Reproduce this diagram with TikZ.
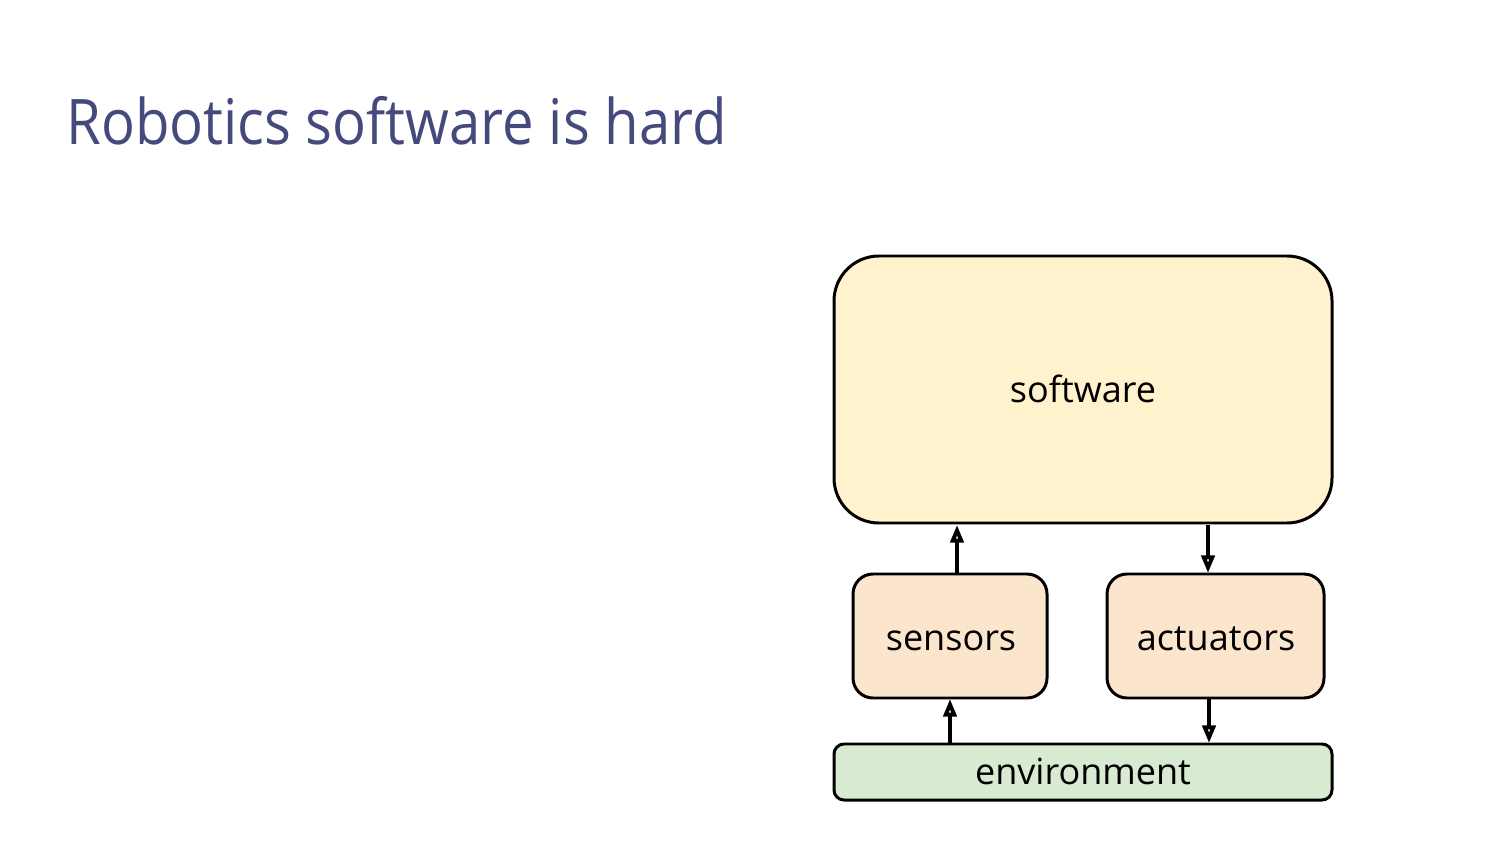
\documentclass[tikz,border=0pt]{standalone}
\usepackage{fontspec}
\setmainfont{Open Sans}
\newfontfamily\titlefont[FakeStretch=0.895]{Open Sans}
\usetikzlibrary{arrows.meta}
\definecolor{titlecol}{HTML}{454A7D}
\definecolor{swfill}{HTML}{FFF2CC}
\definecolor{iofill}{HTML}{FCE5CD}
\definecolor{envfill}{HTML}{D9EAD3}
\tikzset{
  px/.style={x=0.02cm,y=-0.02cm},
  boxbase/.style={draw=black, line width=1.7pt},
  lbl/.style={anchor=base, inner sep=0pt, font=\fontsize{20.5}{24}\selectfont},
  flow/.style={line width=1.8pt, -{Triangle[open, length=10pt, width=7.5pt, line width=2.2pt]}}
}
\begin{document}
\begin{tikzpicture}[px]
\useasboundingbox (0,0) rectangle (1500,844);
\node[anchor=base west, text=titlecol, inner sep=0pt, font=\titlefont\fontsize{35.8}{40}\selectfont] (title) at (66,145) {Robotics software is hard};
\draw[boxbase, fill=swfill, rounded corners=0.9cm] (834,256) rectangle (1332,523);
\node[lbl] (sw) at (1083,402) {software};
\draw[boxbase, fill=iofill, rounded corners=0.4cm] (853,574) rectangle (1047,698);
\node[lbl] (sen) at (951,650) {sensors};
\draw[boxbase, fill=iofill, rounded corners=0.4cm] (1107,574) rectangle (1324,698);
\node[lbl] (act) at (1216,650) {actuators};
\draw[boxbase, fill=envfill, rounded corners=0.2cm] (834,744) rectangle (1332,800);
\node[lbl] (env) at (1083,784) {environment};
\coordinate (a1s) at (957,573);
\coordinate (a1e) at (957,525);
\coordinate (a2s) at (1208,525);
\coordinate (a2e) at (1208,573);
\coordinate (a3s) at (950,743);
\coordinate (a3e) at (950,699);
\coordinate (a4s) at (1209,699);
\coordinate (a4e) at (1209,743);
\draw[flow] (a1s) -- (a1e);
\draw[flow] (a2s) -- (a2e);
\draw[flow] (a3s) -- (a3e);
\draw[flow] (a4s) -- (a4e);
\end{tikzpicture}
\end{document}
